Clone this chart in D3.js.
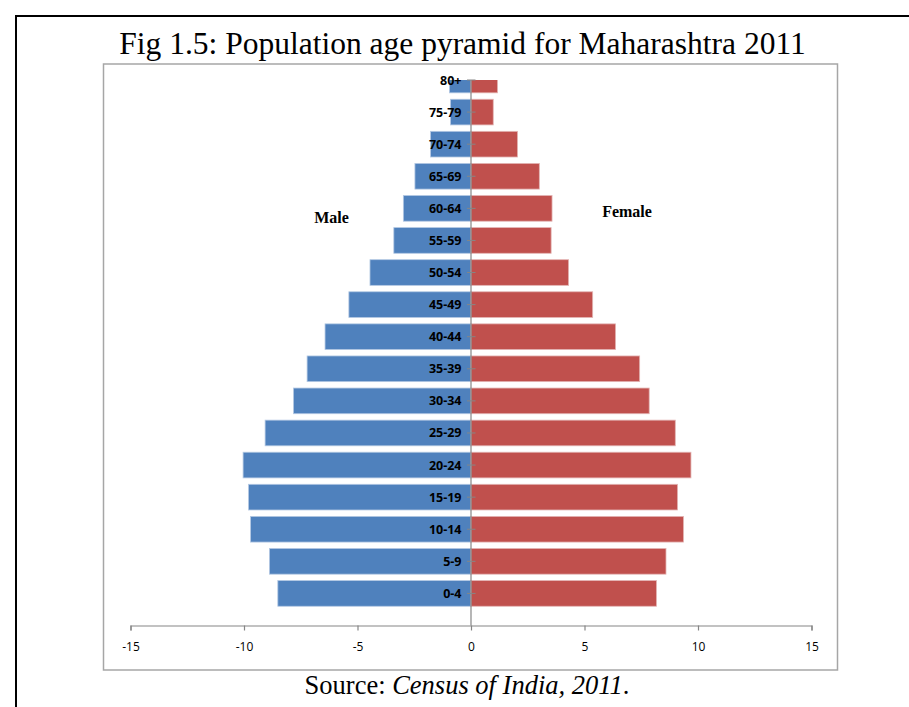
<!DOCTYPE html>
<html>
<head>
<meta charset="utf-8">
<script src="https://cdn.jsdelivr.net/npm/d3@7"></script>
<style>
  body { margin: 0; background: #fff; }
</style>
</head>
<body>
<div id="chart"></div>
<script>
// age groups, bottom to top
var ageGroups = ["0-4","5-9","10-14","15-19","20-24","25-29","30-34","35-39","40-44","45-49","50-54","55-59","60-64","65-69","70-74","75-79","80+"];
// percent of population (male drawn to the left)
var male   = [8.51, 8.88, 9.71, 9.80, 10.04, 9.07, 7.82, 7.22, 6.43, 5.38, 4.45, 3.40, 2.98, 2.47, 1.78, 0.90, 0.95];
var female = [8.17, 8.59, 9.36, 9.10, 9.69, 9.00, 7.85, 7.43, 6.37, 5.36, 4.30, 3.53, 3.57, 3.01, 2.05, 0.98, 1.17];
var xTicks = [-15, -10, -5, 0, 5, 10, 15];

var W = 909, H = 707;
var plotTop = 80, plotBottom = 625.5, plotLeft = 130.5, plotRight = 811.5;

var svg = d3.select("#chart").append("svg")
    .attr("width", W)
    .attr("height", H);

// outer frame of the page
svg.append("rect")
    .attr("x", 16).attr("y", 16)
    .attr("width", 930).attr("height", 730)
    .style("fill", "none")
    .style("stroke", "#000")
    .style("stroke-width", 2);

// title
svg.append("text")
    .attr("x", 462.5).attr("y", 54)
    .style("text-anchor", "middle")
    .style("font-family", "'Liberation Serif', 'Times New Roman', serif")
    .style("font-size", "31.5px")
    .style("fill", "#000")
    .text("Fig 1.5: Population age pyramid for Maharashtra 2011");

// chart box
svg.append("rect")
    .attr("x", 103.5).attr("y", 64)
    .attr("width", 734).attr("height", 606)
    .style("fill", "#fff")
    .style("stroke", "#a6a6a6")
    .style("stroke-width", 1.5);

// scales
var x = d3.scaleLinear()
    .domain([-15, 15])
    .range([plotLeft, plotRight]);

var step = (plotBottom - plotTop) / ageGroups.length;
var y = d3.scaleBand()
    .domain(ageGroups)
    .range([plotBottom - step / 2, plotTop - step / 2])
    .paddingInner(0.2)
    .paddingOuter(0.1);

// clip: bars cannot go above the plot area
svg.append("defs").append("clipPath")
    .attr("id", "clip")
  .append("rect")
    .attr("x", 0).attr("y", plotTop)
    .attr("width", W).attr("height", plotBottom - plotTop);

var bars = svg.append("g").attr("clip-path", "url(#clip)");

// male bars
bars.selectAll("rect.male")
  .data(ageGroups)
  .enter()
  .append("rect")
    .attr("class", "male")
    .attr("x", function(d, i) { return x(-male[i]); })
    .attr("y", function(d) { return y(d); })
    .attr("width", function(d, i) { return x(0) - x(-male[i]); })
    .attr("height", y.bandwidth())
    .style("fill", "#4f81bd")
    .style("stroke", "#b3c8e3")
    .style("stroke-width", 0.8);

// female bars
bars.selectAll("rect.female")
  .data(ageGroups)
  .enter()
  .append("rect")
    .attr("class", "female")
    .attr("x", x(0))
    .attr("y", function(d) { return y(d); })
    .attr("width", function(d, i) { return x(female[i]) - x(0); })
    .attr("height", y.bandwidth())
    .style("fill", "#c0504d")
    .style("stroke", "#e3b5b4")
    .style("stroke-width", 0.8);

// vertical category axis at 0
var axisColor = "#868686";
svg.append("line")
    .attr("x1", x(0)).attr("x2", x(0))
    .attr("y1", plotTop).attr("y2", plotBottom)
    .style("stroke", axisColor)
    .style("stroke-width", 1.2);

svg.selectAll("line.ytick")
  .data(ageGroups)
  .enter()
  .append("line")
    .attr("class", "ytick")
    .attr("x1", x(0) - 4).attr("x2", x(0) + 4.5)
    .attr("y1", function(d) { return y(d) + y.bandwidth() / 2; })
    .attr("y2", function(d) { return y(d) + y.bandwidth() / 2; })
    .style("stroke", axisColor)
    .style("stroke-width", 1);

// age labels
svg.selectAll("text.age")
  .data(ageGroups)
  .enter()
  .append("text")
    .attr("class", "age")
    .attr("x", x(0) - 9.5)
    .attr("y", function(d) { return y(d) + y.bandwidth() / 2; })
    .attr("dy", "0.36em")
    .style("text-anchor", "end")
    .style("font-family", "'Open Sans', sans-serif")
    .style("font-weight", "bold")
    .style("font-size", "12.5px")
    .style("fill", "#000")
    .text(function(d) { return d; });

// horizontal value axis
var xAxis = svg.append("g")
    .attr("transform", "translate(0," + plotBottom + ")")
    .call(d3.axisBottom(x).tickValues(xTicks).tickSize(5).tickPadding(12).tickFormat(function(d) { return String(d); }));

xAxis.select(".domain").style("stroke", axisColor).style("stroke-width", 1.2);
xAxis.selectAll(".tick line").style("stroke", axisColor).style("stroke-width", 1.2);
xAxis.selectAll(".tick text")
    .style("font-family", "'Open Sans', sans-serif")
    .style("font-size", "12px")
    .style("fill", "#000");

// series labels
svg.append("text")
    .attr("x", 331.5).attr("y", 222.5)
    .style("text-anchor", "middle")
    .style("font-family", "'Liberation Serif', 'Times New Roman', serif")
    .style("font-weight", "bold")
    .style("font-size", "16px")
    .text("Male");

svg.append("text")
    .attr("x", 627).attr("y", 217)
    .style("text-anchor", "middle")
    .style("font-family", "'Liberation Serif', 'Times New Roman', serif")
    .style("font-weight", "bold")
    .style("font-size", "16px")
    .text("Female");

// source line
var src = svg.append("text")
    .attr("x", 467).attr("y", 694)
    .style("text-anchor", "middle")
    .style("font-family", "'Liberation Serif', 'Times New Roman', serif")
    .style("font-size", "26.5px")
    .style("fill", "#000");
src.append("tspan").text("Source: ");
src.append("tspan").style("font-style", "italic").text("Census of India, 2011");
src.append("tspan").text(".");
</script>
</body>
</html>
